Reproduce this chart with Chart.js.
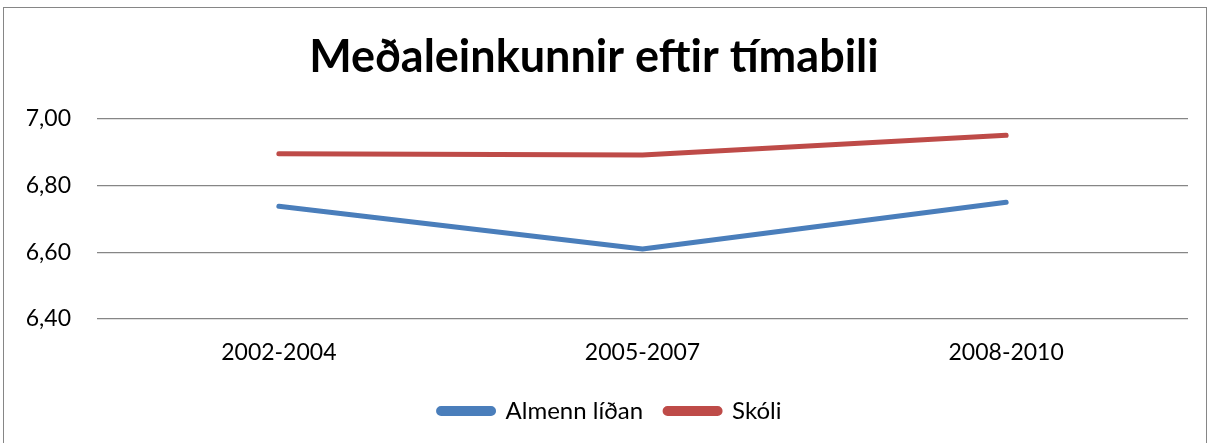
<!DOCTYPE html>
<html>
<head>
<meta charset="utf-8">
<script src="https://cdn.jsdelivr.net/npm/chart.js@4.4.0/dist/chart.umd.min.js"></script>
<style>
  html, body { margin: 0; padding: 0; background: #fff; }
  #wrap { position: relative; width: 1213px; height: 443px; overflow: hidden; }
  #frame { position: absolute; left: 3px; top: 7px; width: 1204px; height: 460px; border: 1.5px solid #868686; box-sizing: border-box; }
  canvas { position: absolute; left: 0; top: 0; }
</style>
</head>
<body>
<div id="wrap">
  <div id="frame"></div>
  <canvas id="c" width="1213" height="443"></canvas>
</div>
<script>
const chartTitle = "Meðaleinkunnir eftir tímabili";
const categories = ["2002-2004", "2005-2007", "2008-2010"];
const seriesNames = ["Almenn líðan", "Skóli"];
const almennLidan = [6.738, 6.610, 6.750];
const skoli = [6.896, 6.892, 6.951];
const yTicks = [6.40, 6.60, 6.80, 7.00];

const FONT = "Lato, 'Open Sans', sans-serif";

const legendShift = {
  id: 'legendShift',
  afterLayout(chart) {
    if (chart.legend) { chart.legend.left += 16; chart.legend.right += 16; }
  }
};

new Chart(document.getElementById('c'), {
  type: 'line',
  data: {
    labels: categories,
    datasets: [
      { label: seriesNames[0], data: almennLidan, borderColor: '#4A7EBB', backgroundColor: '#4A7EBB',
        borderWidth: 5, pointRadius: 0, borderCapStyle: 'round', borderJoinStyle: 'round', tension: 0 },
      { label: seriesNames[1], data: skoli, borderColor: '#BE4B48', backgroundColor: '#BE4B48',
        borderWidth: 5, pointRadius: 0, borderCapStyle: 'round', borderJoinStyle: 'round', tension: 0 }
    ]
  },
  plugins: [legendShift],
  options: {
    responsive: false,
    animation: false,
    devicePixelRatio: 1,
    layout: { padding: { left: 0, right: 25, top: 30, bottom: 10 } },
    plugins: {
      title: { display: true, text: chartTitle, color: '#000',
        font: { family: FONT, size: 45, weight: 'bold' }, padding: { top: 0, bottom: 35 } },
      legend: { position: 'bottom', align: 'center',
        labels: { color: '#000', font: { family: FONT, size: 24 }, boxWidth: 55, boxHeight: 5,
          useBorderRadius: true, borderRadius: 2.5, padding: 22 } },
      tooltip: { enabled: false }
    },
    scales: {
      x: {
        offset: true,
        grid: { display: false, drawTicks: false },
        border: { display: false },
        ticks: { color: '#000', font: { family: FONT, size: 23 }, padding: 20 },
        afterFit: (s) => { s.height = 58; }
      },
      y: {
        min: 6.4, max: 7.0,
        afterBuildTicks: (s) => { s.ticks = yTicks.map(v => ({ value: v })); },
        grid: { color: '#868686', lineWidth: 1.3, drawTicks: false },
        border: { display: false },
        ticks: { color: '#000', font: { family: FONT, size: 23 }, padding: 26,
          callback: (v) => Number(v).toFixed(2).replace('.', ',') },
        afterFit: (s) => { s.width = 97; }
      }
    }
  }
});
</script>
</body>
</html>
